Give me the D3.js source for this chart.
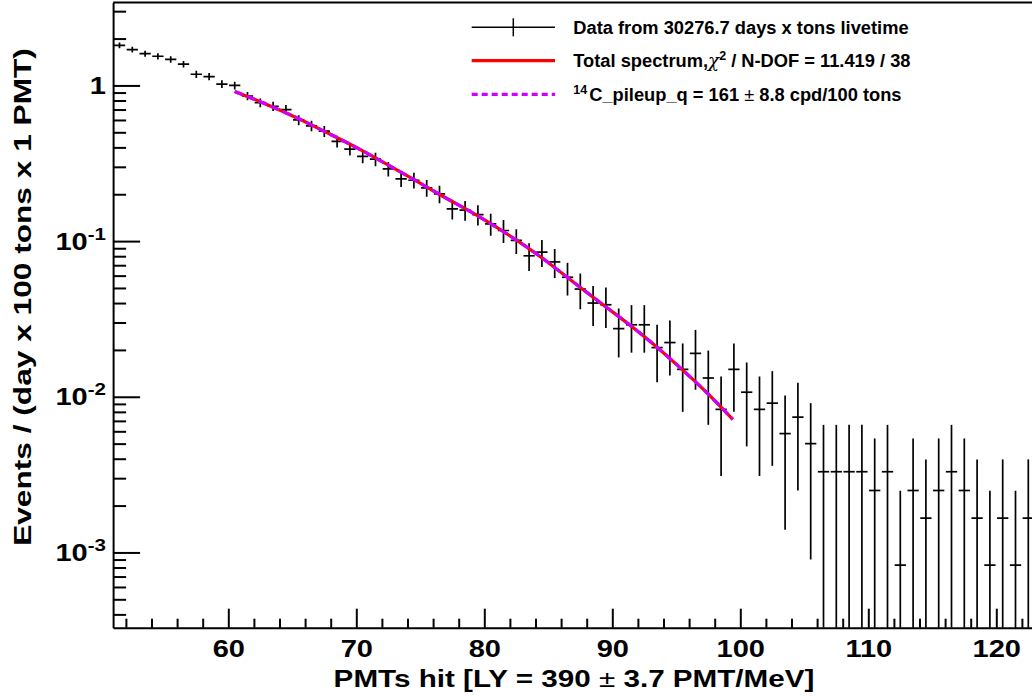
<!DOCTYPE html>
<html>
<head>
<meta charset="utf-8">
<script src="https://cdn.jsdelivr.net/npm/d3@7"></script>
<style>
  body { margin: 0; background: #fff; }
  svg { display: block; }
  text { font-family: "Liberation Sans", Arial, Helvetica, sans-serif; font-weight: bold; fill: #000; }
</style>
</head>
<body>
<div id="chart"></div>
<script>
// bin centres (PMTs hit) and measured rates with their errors
const binCenters = [
  51.5, 52.5, 53.5, 54.5, 55.5, 56.5, 57.5, 58.5, 59.5, 60.5,
  61.5, 62.5, 63.5, 64.5, 65.5, 66.5, 67.5, 68.5, 69.5, 70.5,
  71.5, 72.5, 73.5, 74.5, 75.5, 76.5, 77.5, 78.5, 79.5, 80.5,
  81.5, 82.5, 83.5, 84.5, 85.5, 86.5, 87.5, 88.5, 89.5, 90.5,
  91.5, 92.5, 93.5, 94.5, 95.5, 96.5, 97.5, 98.5, 99.5, 100.5,
  101.5, 102.5, 103.5, 104.5, 105.5, 106.5, 107.5, 108.5, 109.5, 110.5,
  111.5, 112.5, 113.5, 114.5, 115.5, 116.5, 117.5, 118.5, 119.5, 120.5,
  121.5, 122.5
];
const rates = [
  1.81, 1.70, 1.60, 1.54, 1.47, 1.37, 1.18, 1.14, 1.02, 1.00,
  0.855, 0.775, 0.735, 0.70, 0.60, 0.55, 0.508, 0.437, 0.39, 0.35,
  0.336, 0.291, 0.251, 0.246, 0.22, 0.201, 0.161, 0.158, 0.148, 0.129,
  0.117, 0.101, 0.0805, 0.085, 0.0735, 0.0586, 0.0492, 0.040, 0.039, 0.0274,
  0.029, 0.029, 0.0207, 0.0223, 0.0150, 0.0190, 0.0132, 0.0083, 0.0150, 0.0107,
  0.0083, 0.0091, 0.0058, 0.0074, 0.0050, 0.0033, 0.0033, 0.0033, 0.0033, 0.0025,
  0.0033, 0.00083, 0.0025, 0.00166, 0.0025, 0.0033, 0.0025, 0.00166, 0.00083, 0.00166,
  0.00083, 0.00166
];
const rateErrors = [
  0.0773, 0.0749, 0.0727, 0.0713, 0.0697, 0.0673, 0.0624, 0.0614, 0.0580, 0.0575,
  0.0531, 0.0506, 0.0493, 0.0481, 0.0445, 0.0426, 0.0410, 0.0380, 0.0359, 0.0340,
  0.0333, 0.0310, 0.0288, 0.0285, 0.0270, 0.0258, 0.0231, 0.0228, 0.0221, 0.0206,
  0.0197, 0.0183, 0.0163, 0.0168, 0.0156, 0.0139, 0.0127, 0.0115, 0.0113, 0.0095,
  0.0098, 0.0098, 0.0083, 0.0086, 0.0070, 0.0079, 0.0066, 0.0052, 0.0070, 0.0059,
  0.0052, 0.0055, 0.0044, 0.0049, 0.0041, 0.0033, 0.0033, 0.0033, 0.0033, 0.0029,
  0.0033, 0.00166, 0.0029, 0.0023, 0.0029, 0.0033, 0.0029, 0.0023, 0.00166, 0.0023,
  0.00166, 0.0023
];

// fitted spectrum
const fitX = [60.5, 62.45, 65.5, 67.5, 70.5, 71.46, 74.48, 76.48, 79.53, 82.55,
  84.38, 87.5, 89.43, 91.52, 93.47, 95.55, 97.5, 99.41];
const fitY = [0.915, 0.789, 0.611, 0.507, 0.380, 0.3436, 0.249, 0.200, 0.1445, 0.101,
  0.0794, 0.0504, 0.0382, 0.02825, 0.0209, 0.01472, 0.0104, 0.00715];

const xMajorTicks = [60, 70, 80, 90, 100, 110, 120];
const yMajorTicks = [1, 0.1, 0.01, 0.001];
const yTickBase = ["1", "10", "10", "10"];
const yTickExp = ["", "-1", "-2", "-3"];

const WIDTH = 1032;
const HEIGHT = 696;
const LEFT = 113.1;
const TOP = 2.5;
const BOTTOM = 627.7;
const PX_PER_BIN = 12.8;
const X_MIN = 51;
const X_MAX = 123.2;
const STRETCH = 1.21;
const MAGENTA = "#cc00ff";

const svg = d3.select("#chart")
  .append("svg")
  .attr("width", WIDTH)
  .attr("height", HEIGHT);

svg.append("rect").attr("width", WIDTH).attr("height", HEIGHT).attr("fill", "#fff");

const RIGHT = LEFT + (X_MAX - X_MIN) * PX_PER_BIN;

const xScale = d3.scaleLinear().domain([X_MIN, X_MAX]).range([LEFT, RIGHT]);
const yScale = d3.scaleLog().domain([3.285e-4, 3.41]).range([BOTTOM, TOP]);

svg.append("clipPath")
  .attr("id", "frame-clip")
  .append("rect")
  .attr("x", LEFT)
  .attr("y", TOP)
  .attr("width", RIGHT - LEFT)
  .attr("height", BOTTOM - TOP);

// frame top / right
svg.append("path")
  .attr("d", `M${LEFT},${TOP}H${RIGHT}V${BOTTOM}`)
  .attr("fill", "none")
  .attr("stroke", "#000")
  .attr("stroke-width", 2);

// stretch a text horizontally so that it spans the given width
function fitWidth(sel, target, tx, ty, rot) {
  const len = sel.node().getComputedTextLength();
  const sx = target / len;
  sel.attr("transform", `translate(${tx}, ${ty})${rot ? " rotate(" + rot + ")" : ""} scale(${sx},1)`);
}

function addAxisX() {
  const minor = d3.range(52, X_MAX, 2).filter(v => v % 10 !== 0);
  svg.append("g")
    .attr("transform", `translate(0, ${BOTTOM})`)
    .call(d3.axisBottom(xScale).tickValues(minor).tickSize(-9).tickFormat(""))
    .call(g => g.select(".domain").remove())
    .call(g => g.selectAll(".tick line").attr("stroke-width", 2));

  const g = svg.append("g")
    .attr("id", "x-axis")
    .attr("transform", `translate(0, ${BOTTOM})`)
    .call(d3.axisBottom(xScale)
      .tickValues(xMajorTicks)
      .tickSizeInner(-19)
      .tickSizeOuter(0)
      .tickPadding(12)
      .tickFormat(d3.format("d")))
    .attr("font-family", null)
    .attr("font-size", 24);
  g.select(".domain").attr("stroke-width", 2);
  g.selectAll(".tick line").attr("stroke-width", 2);
  g.selectAll(".tick text").attr("transform", `scale(${STRETCH},1)`);
}

function addAxisY() {
  const minor = yScale.ticks().filter(v => !yMajorTicks.includes(v));
  svg.append("g")
    .attr("transform", `translate(${LEFT}, 0)`)
    .call(d3.axisLeft(yScale).tickValues(minor).tickSize(-13).tickFormat(""))
    .call(g => g.select(".domain").remove())
    .call(g => g.selectAll(".tick line").attr("stroke-width", 2));

  const g = svg.append("g")
    .attr("id", "y-axis")
    .attr("transform", `translate(${LEFT}, 0)`)
    .call(d3.axisLeft(yScale)
      .tickValues(yMajorTicks)
      .tickSizeInner(-27)
      .tickSizeOuter(0)
      .tickFormat(""));
  g.select(".domain").attr("stroke-width", 2);
  g.selectAll(".tick line").attr("stroke-width", 2);

  yMajorTicks.forEach((v, i) => {
    const t = svg.append("text")
      .attr("text-anchor", "end")
      .attr("font-size", 24)
      .attr("transform", `translate(106, ${yScale(v) + 8.6}) scale(${STRETCH},1)`);
    t.append("tspan").text(yTickBase[i]);
    if (yTickExp[i]) {
      t.append("tspan").attr("font-size", 17).attr("dy", -10).text(yTickExp[i]);
    }
  });
}

function addTitles() {
  const xt = svg.append("text")
    .attr("text-anchor", "middle")
    .attr("font-size", 24);
  xt.append("tspan").text("PMTs hit [LY = 390 ");
  xt.append("tspan").attr("font-weight", "normal").text("±");
  xt.append("tspan").text(" 3.7 PMT/MeV]");
  fitWidth(xt, 481, 574, 686.7);

  const yt = svg.append("text")
    .attr("text-anchor", "middle")
    .attr("font-size", 24)
    .text("Events / (day x 100 tons x 1 PMT)");
  fitWidth(yt, 498, 31, 297, -90);
}

function addData() {
  const plot = svg.append("g").attr("clip-path", "url(#frame-clip)");

  const bars = plot.selectAll("g.bin")
    .data(binCenters.map((c, i) => ({ c, v: rates[i], e: rateErrors[i] })))
    .enter()
    .append("g")
    .attr("class", "bin")
    .attr("stroke", "#000")
    .attr("stroke-width", 1.7);

  bars.append("line")
    .attr("x1", d => xScale(d.c))
    .attr("x2", d => xScale(d.c))
    .attr("y1", d => yScale(d.v + d.e))
    .attr("y2", d => (d.v - d.e > 0 ? yScale(d.v - d.e) : BOTTOM + 5));

  bars.append("line")
    .attr("x1", d => xScale(d.c - 0.44))
    .attr("x2", d => xScale(d.c + 0.44))
    .attr("y1", d => yScale(d.v))
    .attr("y2", d => yScale(d.v));

  const fit = fitX.map((fx, i) => [fx, fitY[i]]);
  const line = d3.line()
    .x(d => xScale(d[0]))
    .y(d => yScale(d[1]))
    .curve(d3.curveMonotoneX);

  plot.append("path")
    .datum(fit)
    .attr("d", line)
    .attr("fill", "none")
    .attr("stroke", "#ff0000")
    .attr("stroke-width", 3.2);

  plot.append("path")
    .datum(fit)
    .attr("d", line)
    .attr("fill", "none")
    .attr("stroke", MAGENTA)
    .attr("stroke-width", 3.2)
    .attr("stroke-dasharray", "9,4");
}

function addLegend() {
  const x0 = 471.7, x1 = 555, tx = 573.3;
  const rows = [27.3, 60.7, 94.3];

  svg.append("line").attr("x1", x0).attr("x2", x1).attr("y1", rows[0]).attr("y2", rows[0])
    .attr("stroke", "#000").attr("stroke-width", 1.5);
  svg.append("line").attr("x1", 513.3).attr("x2", 513.3).attr("y1", rows[0] - 9).attr("y2", rows[0] + 9)
    .attr("stroke", "#000").attr("stroke-width", 1.5);
  svg.append("line").attr("x1", x0).attr("x2", x1).attr("y1", rows[1]).attr("y2", rows[1])
    .attr("stroke", "#ff0000").attr("stroke-width", 3.2);
  svg.append("line").attr("x1", x0).attr("x2", x1).attr("y1", rows[2]).attr("y2", rows[2])
    .attr("stroke", MAGENTA).attr("stroke-width", 3.2).attr("stroke-dasharray", "6,4");

  svg.append("text").attr("x", tx).attr("y", rows[0] + 6.2).attr("font-size", 18.3)
    .text("Data from 30276.7 days x tons livetime");

  const t2 = svg.append("text").attr("x", tx).attr("y", rows[1] + 6.2).attr("font-size", 18.3);
  t2.append("tspan").text("Total spectrum,");
  t2.append("tspan").attr("font-weight", "normal").attr("font-family", "DejaVu Serif, serif").attr("font-style", "italic").text("χ");
  t2.append("tspan").attr("font-size", 12.5).attr("dy", -7).text("2");
  t2.append("tspan").attr("dy", 7).text(" / N-DOF = 11.419 / 38");

  const t3 = svg.append("text").attr("x", tx).attr("y", rows[2] + 6.2).attr("font-size", 18.3);
  t3.append("tspan").attr("font-size", 12.5).attr("dy", -7).text("14");
  t3.append("tspan").attr("dy", 7).attr("dx", 2).text("C_pileup_q = 161");
  t3.append("tspan").attr("font-weight", "normal").text(" ±");
  t3.append("tspan").text(" 8.8 cpd/100 tons");
}

addData();
addAxisX();
addAxisY();
addTitles();
addLegend();
</script>
</body>
</html>
